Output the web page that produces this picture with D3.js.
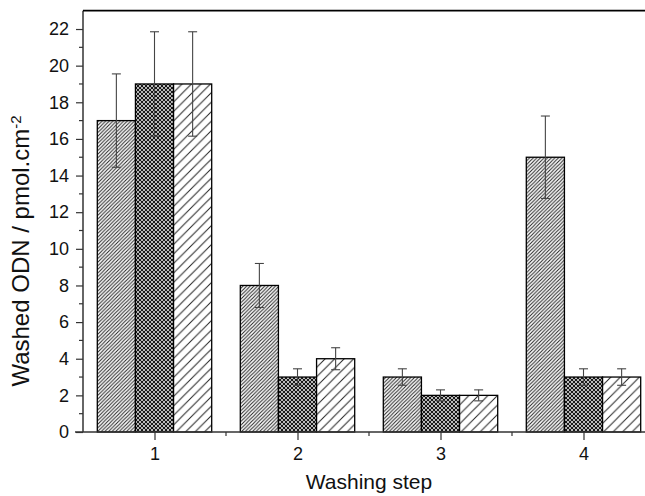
<!DOCTYPE html>
<html>
<head>
<meta charset="utf-8">
<script src="https://cdn.jsdelivr.net/npm/d3@7"></script>
<style>
  body { margin: 0; background: #fff; }
  text { font-family: "Liberation Sans", Arial, sans-serif; fill: #111; }
</style>
</head>
<body>
<div id="chart"></div>
<script>
// 資料
const steps = [1, 2, 3, 4];
const valuesA = [17, 8, 3, 15];
const valuesB = [19, 3, 2, 3];
const valuesC = [19, 4, 2, 3];
const errorsA = [2.55, 1.2, 0.45, 2.25];
const errorsB = [2.85, 0.45, 0.3, 0.45];
const errorsC = [2.85, 0.6, 0.3, 0.45];
const yTicks = [0, 2, 4, 6, 8, 10, 12, 14, 16, 18, 20, 22];
const yMinor = [1, 3, 5, 7, 9, 11, 13, 15, 17, 19, 21];
const xMinor = [1.5, 2.5, 3.5];

const W = 645, H = 496;
const margin = { top: 10.7, left: 83, bottom: 64 };
const plotRight = 655;   // 右側超出畫面被裁切

const svg = d3.select("#chart").append("svg")
    .attr("width", W)
    .attr("height", H);

const x = d3.scaleLinear().domain([0.5, 4.5]).range([margin.left, plotRight]);
const y = d3.scaleLinear().domain([0, 23]).range([H - margin.bottom, margin.top]);

// 圖樣
const defs = svg.append("defs");
function hatch(id, size, stroke, sw, cross) {
    const p = defs.append("pattern")
        .attr("id", id)
        .attr("patternUnits", "userSpaceOnUse")
        .attr("width", size)
        .attr("height", size);
    p.append("rect").attr("width", size).attr("height", size).attr("fill", "#fff");
    p.append("path")
        .attr("d", `M-1,1 l2,-2 M0,${size} l${size},${-size} M${size - 1},${size + 1} l2,-2`)
        .attr("stroke", stroke).attr("stroke-width", sw);
    if (cross) {
        p.append("path")
            .attr("d", `M-1,${size - 1} l2,2 M0,0 l${size},${size} M${size - 1},-1 l2,2`)
            .attr("stroke", stroke).attr("stroke-width", sw);
    }
}
hatch("pA", 3.6, "#222", 1, false);
hatch("pB", 4, "#111", 1.15, true);
hatch("pC", 9.5, "#222", 1, false);
const fills = ["url(#pA)", "url(#pB)", "url(#pC)"];

const data = [];
steps.forEach((s, i) => {
    [valuesA, valuesB, valuesC].forEach((vals, k) => {
        const errs = [errorsA, errorsB, errorsC][k];
        data.push({ step: s, k: k, value: vals[i], err: errs[i] });
    });
});

const groupW = 0.8;
const barW = groupW / 3;
const xLeft = d => x(d.step - groupW / 2 + d.k * barW);
const bw = x(barW) - x(0);

svg.append("g").selectAll("rect")
    .data(data)
    .enter()
    .append("rect")
    .attr("x", xLeft)
    .attr("y", d => y(d.value))
    .attr("width", bw)
    .attr("height", d => y(0) - y(d.value))
    .attr("fill", d => fills[d.k])
    .attr("stroke", "#000")
    .attr("stroke-width", 1.3);

// 誤差線
const eb = svg.append("g").attr("stroke", "#444").attr("stroke-width", 1.1);
data.forEach(d => {
    const cx = xLeft(d) + bw / 2;
    eb.append("line").attr("x1", cx).attr("x2", cx).attr("y1", y(d.value + d.err)).attr("y2", y(d.value - d.err));
    eb.append("line").attr("x1", cx - 4.5).attr("x2", cx + 4.5).attr("y1", y(d.value + d.err)).attr("y2", y(d.value + d.err));
    eb.append("line").attr("x1", cx - 4.5).attr("x2", cx + 4.5).attr("y1", y(d.value - d.err)).attr("y2", y(d.value - d.err));
});

// Y 軸
const yAxis = svg.append("g")
    .attr("transform", `translate(${margin.left},0)`)
    .call(d3.axisLeft(y).tickValues(yTicks).tickSize(7).tickPadding(7));
yAxis.select(".domain").remove();
yAxis.selectAll("line").attr("stroke", "#333").attr("stroke-width", 1.2);
yAxis.selectAll("text").style("font-size", "18px").attr("fill", "#111");
svg.append("g").selectAll("line")
    .data(yMinor)
    .enter().append("line")
    .attr("x1", margin.left - 4).attr("x2", margin.left)
    .attr("y1", d => y(d)).attr("y2", d => y(d))
    .attr("stroke", "#333").attr("stroke-width", 1.2);

// X 軸
const xAxis = svg.append("g")
    .attr("transform", `translate(0,${y(0)})`)
    .call(d3.axisBottom(x).tickValues(steps).tickFormat(d3.format("d")).tickSize(8).tickPadding(7));
xAxis.select(".domain").remove();
xAxis.selectAll("line").attr("stroke", "#333").attr("stroke-width", 1.2);
xAxis.selectAll("text").style("font-size", "18px").attr("fill", "#111");
svg.append("g").selectAll("line")
    .data(xMinor)
    .enter().append("line")
    .attr("x1", d => x(d)).attr("x2", d => x(d))
    .attr("y1", y(0)).attr("y2", y(0) + 4)
    .attr("stroke", "#333").attr("stroke-width", 1.2);

// 框線
svg.append("line")
    .attr("x1", margin.left - 8).attr("x2", plotRight)
    .attr("y1", y(0)).attr("y2", y(0))
    .attr("stroke", "#333").attr("stroke-width", 1.5);
svg.append("line")
    .attr("x1", margin.left).attr("x2", margin.left)
    .attr("y1", y(0)).attr("y2", margin.top)
    .attr("stroke", "#333").attr("stroke-width", 1.5);
svg.append("line")
    .attr("x1", margin.left).attr("x2", plotRight)
    .attr("y1", margin.top).attr("y2", margin.top)
    .attr("stroke", "#000").attr("stroke-width", 1.8);

// 軸標題
svg.append("text")
    .attr("x", (margin.left + plotRight) / 2)
    .attr("y", 489)
    .attr("text-anchor", "middle")
    .style("font-size", "21px")
    .text("Washing step");

const yl = svg.append("text")
    .attr("transform", `translate(29,251) rotate(-90)`)
    .attr("text-anchor", "middle")
    .style("font-size", "24px");
yl.append("tspan").text("Washed ODN / pmol.cm");
yl.append("tspan").attr("dy", "-0.55em").style("font-size", "15px").text("-2");
</script>
</body>
</html>
